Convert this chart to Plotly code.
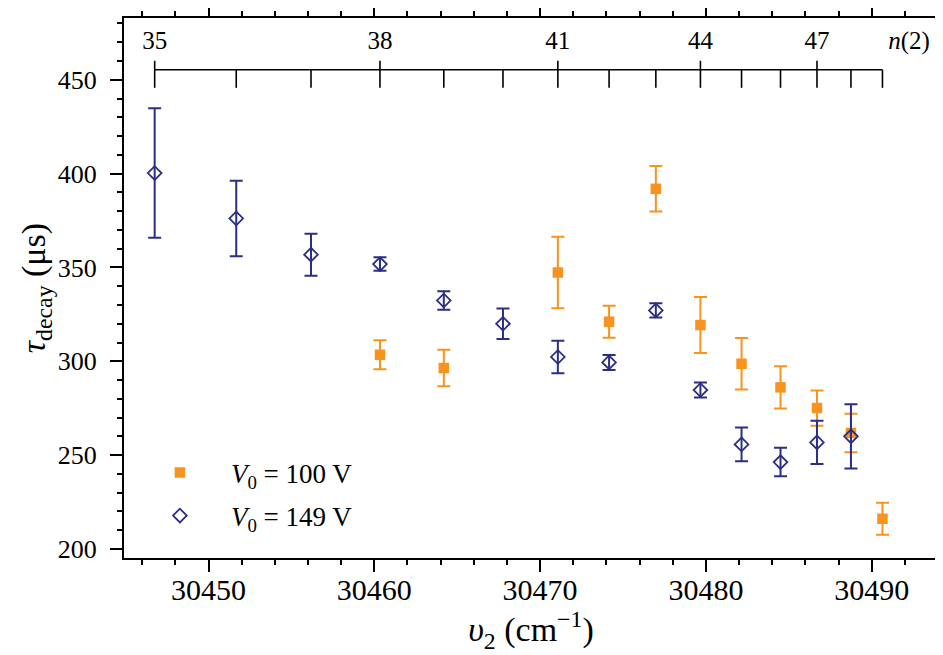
import plotly.graph_objects as go

# ---------------- data ----------------
n_levels = [35, 36, 37, 38, 39, 40, 41, 42, 43, 44, 45, 46, 47, 48, 49]
nu_levels = [30446.75, 30451.67, 30456.18, 30460.34, 30464.19, 30467.76, 30471.07,
             30474.16, 30476.98, 30479.67, 30482.15, 30484.50, 30486.70, 30488.75, 30490.65]
n_labels = [35, 38, 41, 44, 47]

n_149 = [35, 36, 37, 38, 39, 40, 41, 42, 43, 44, 45, 46, 47, 48]
tau_149 = [400.3, 376.1, 356.8, 351.8, 332.4, 320.0, 302.3, 299.4, 327.1, 284.7, 255.7, 246.3, 256.8, 260.0]
err_149 = [34.5, 20.1, 11.2, 3.6, 4.9, 8.1, 8.7, 4.0, 3.8, 4.0, 9.0, 7.6, 11.5, 17.1]

n_100 = [38, 39, 41, 42, 43, 44, 45, 46, 47, 48, 49]
tau_100 = [303.5, 296.4, 347.3, 321.1, 391.9, 319.3, 298.7, 286.1, 275.1, 261.8, 216.1]
err_100 = [7.7, 9.7, 19.0, 8.5, 12.1, 14.9, 13.7, 11.2, 9.4, 10.3, 8.5]

x_ticks_major = [30450, 30460, 30470, 30480, 30490]
y_ticks_major = [200, 250, 300, 350, 400, 450]

ORANGE = "#F7931E"
NAVY = "#2B2E83"
FONT = "Liberation Serif, Times New Roman, serif"

pos = dict(zip(n_levels, nu_levels))
x_100 = [pos[n] for n in n_100]
x_149 = [pos[n] for n in n_149]

fig = go.Figure()

fig.add_trace(go.Scatter(
    x=x_100, y=tau_100, mode="markers",
    name="<i>V</i><sub>0</sub> = 100 V", legendgroup="a",
    marker=dict(symbol="square", size=10.5, color=ORANGE),
    error_y=dict(type="data", array=err_100, visible=True, color=ORANGE, thickness=2, width=6.5),
))
fig.add_trace(go.Scatter(
    x=x_149, y=tau_149, mode="markers",
    name="<i>V</i><sub>0</sub> = 149 V", legendgroup="b",
    marker=dict(symbol="diamond-open", size=10.5, color=NAVY, line=dict(width=1.8, color=NAVY)),
    error_y=dict(type="data", array=err_149, visible=True, color=NAVY, thickness=2, width=6.5),
))

# ---------------- n(2) scale inside the plot ----------------
y_line = 455.3
y_low = 445.7
y_high = 460.1
y_lab = 469.9
sx, sy = [nu_levels[0], nu_levels[-1], None], [y_line, y_line, None]
for n, x in zip(n_levels, nu_levels):
    top = y_high if n in n_labels else y_line
    sx += [x, x, None]
    sy += [top, y_low, None]
fig.add_trace(go.Scatter(x=sx, y=sy, mode="lines", line=dict(color="black", width=1.6),
                         showlegend=False, hoverinfo="skip", cliponaxis=False))
fig.add_trace(go.Scatter(x=[pos[n] for n in n_labels], y=[y_lab] * len(n_labels),
                         mode="text", text=[str(n) for n in n_labels],
                         textfont=dict(family=FONT, size=25, color="black"),
                         showlegend=False, hoverinfo="skip", cliponaxis=False))
fig.add_trace(go.Scatter(x=[30492.25], y=[y_lab], mode="text", text=["<i>n</i>(2)"],
                         textfont=dict(family=FONT, size=25, color="black"),
                         showlegend=False, hoverinfo="skip", cliponaxis=False))

axis_common = dict(showline=True, linecolor="black", linewidth=2.2, mirror="allticks",
                   ticks="outside", tickcolor="black", tickwidth=2, showgrid=False, zeroline=False,
                   automargin=False)

fig.update_xaxes(**axis_common, range=[30444.9, 30494.0], tickvals=x_ticks_major, ticklen=12,
                 tickformat="d", ticklabelstandoff=-8,
                 tickfont=dict(family=FONT, size=30, color="black"),
                 minor=dict(dtick=2, ticks="outside", ticklen=5, tickwidth=2, tickcolor="black"),
                 title=dict(text="<i>υ</i><sub>2</sub> (cm<sup>−1</sup>)",
                            font=dict(family=FONT, size=34, color="black"), standoff=4))
fig.update_yaxes(**axis_common, range=[195.2, 482.9], tickvals=y_ticks_major, ticklen=12,
                 ticklabelstandoff=8,
                 tickfont=dict(family=FONT, size=26, color="black"),
                 minor=dict(dtick=10, ticks="outside", ticklen=5, tickwidth=2, tickcolor="black"),
                 title=dict(text="<i>τ</i><sub>decay</sub> (μs)",
                            font=dict(family=FONT, size=34, color="black"), standoff=2))

fig.update_layout(
    width=935, height=647,
    margin=dict(l=116, r=5, t=10, b=97),
    paper_bgcolor="white", plot_bgcolor="white",
    font=dict(family=FONT, color="black"),
    legend=dict(x=0.006, y=0.203, xanchor="left", yanchor="top", bgcolor="rgba(0,0,0,0)",
                font=dict(family=FONT, size=27, color="black"), tracegroupgap=5, itemwidth=92),
)

fig.write_html("out.html")
